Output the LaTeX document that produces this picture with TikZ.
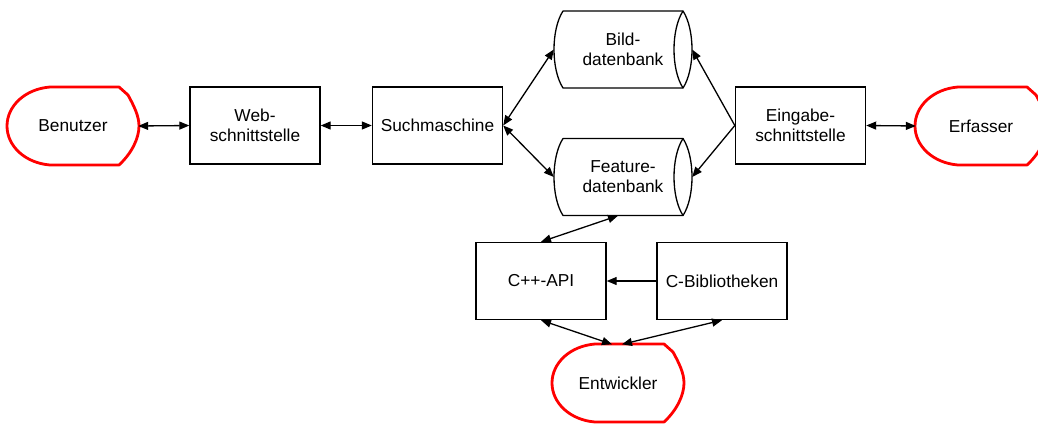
\documentclass[tikz,border=0pt]{standalone}
\usepackage{fontspec}
\setmainfont{Liberation Sans}
\usetikzlibrary{arrows.meta,calc}

% red hand-drawn outline of an actor (rounded left, chamfered right)
\newcommand\actoroutline[1]{%
  \draw[actorline, shift={(#1.center)}]
    (-23,-39) -- (46,-39) -- (55,-31)
    .. controls (61,-20) and (66,-10) .. (66,0)
    .. controls (66,12) and (59,27) .. (46,39)
    -- (-23,39)
    .. controls (-48,37) and (-66,20) .. (-66,0)
    .. controls (-66,-20) and (-48,-37) .. (-23,-39) -- cycle;}

% horizontal storage drum
\newcommand\drumoutline[1]{%
  \draw[drumline, shift={(#1.center)}]
    (-60,-38.5) -- (60,-38.5)
    .. controls (72,-20) and (72,20) .. (60,38.5)
    -- (-60,38.5)
    .. controls (-72,20) and (-72,-20) .. (-60,-38.5) -- cycle;
  \draw[drumline, shift={(#1.center)}]
    (60,-38.5) .. controls (48,-20) and (48,20) .. (60,38.5);}

\begin{document}
\begin{tikzpicture}[x=1pt, y=-1pt,
  font=\fontsize{17.3}{20}\selectfont,
  box/.style={draw, line width=1.4pt, minimum width=130pt, minimum height=77pt,
              align=center, inner sep=0pt},
  actor/.style={minimum width=130pt, minimum height=77pt, align=center, inner sep=0pt},
  drum/.style={minimum width=138pt, minimum height=77pt, align=center, inner sep=0pt},
  actorline/.style={draw=red, line width=2.8pt, line join=round},
  drumline/.style={draw=black, line width=1.3pt, line join=round},
  tip/.tip={Triangle[length=10pt, width=8pt]},
  conn/.style={line width=1.3pt, -tip},
  both/.style={line width=1.3pt, tip-tip}]

\useasboundingbox (0,0) rectangle (1038,423);

% actors
\node[actor] (u)   at (73,126)  {Benutzer};
\node[actor] (erf) at (981,126) {Erfasser};
\node[actor] (ent) at (618,383) {Entwickler};
\actoroutline{u}
\actoroutline{erf}
\actoroutline{ent}

% components
\node[box] (web)  at (255,125.5) {Web-\\schnittstelle};
\node[box] (such) at (437.5,125.5) {Suchmaschine};
\node[box] (ein)  at (800.5,125.5) {Eingabe-\\schnittstelle};
\node[box] (api)  at (541,281) {C++-API};
\node[box] (cb)   at (722,281) {C-Bibliotheken};

% databases
\node[drum] (bild) at (623,49.5) {Bild-\\datenbank};
\node[drum] (feat) at (623,177)  {Feature-\\datenbank};
\drumoutline{bild}
\drumoutline{feat}

% connections
\draw[both] (u.east) -- (web.west);
\draw[both] (web.east) -- (such.west);
\draw[both] (such.east) -- (bild.west);
\draw[both] (such.east) -- (feat.west);
\draw[conn] (ein.west) -- (bild.east);
\draw[conn] (ein.west) -- (feat.east);
\draw[both] (ein.east) -- (erf.west);
\draw[both] ($(feat.south)+(-5,0)$) -- (api.north);
\draw[conn] (cb.west) -- (api.east);
\draw[both] (api.south) -- ($(ent.north)+(-6,0)$);
\draw[both] (cb.south) -- ($(ent.north)+(4,0)$);
\end{tikzpicture}
\end{document}
